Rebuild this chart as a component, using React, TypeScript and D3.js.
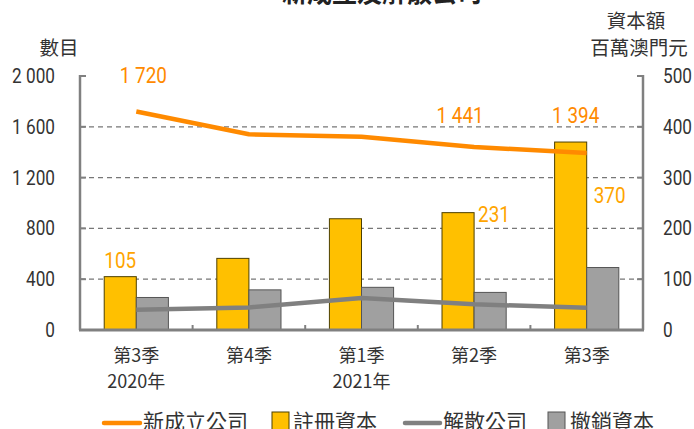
import React from "react";
import * as d3 from "d3";

const quarters = ["第3季", "第4季", "第1季", "第2季", "第3季"];
const years = ["2020年", "", "2021年", "", ""];
const newCompanies = [1720, 1541, 1522, 1441, 1394];
const dissolved = [160, 178, 252, 202, 176];
const registeredCapital = [105, 141, 219, 231, 370];
const cancelledCapital = [64, 79, 84, 74, 123];
const leftTicks = [0, 400, 800, 1200, 1600, 2000];
const rightTicks = [0, 100, 200, 300, 400, 500];
const legendItems = ["新成立公司", "註冊資本", "解散公司", "撤銷資本"];

const W = 694, H = 429;
const L = 80, R = 643, T = 76, B = 330;
const ORANGE = "#FF8A00";
const LABEL_ORANGE = "#FFA500";
const YELLOW = "#FFC000";
const GREY = "#A0A0A0";
const LINE_GREY = "#808080";
const FONT = "'Roboto', 'Noto Sans', sans-serif";
const CJK = "'Noto Sans CJK TC', sans-serif";
const SX = 0.86;

const fmt = (v: number) => {
  const s = String(v);
  return s.length > 3 ? s.slice(0, s.length - 3) + " " + s.slice(-3) : s;
};

function Num({ x, y, anchor, size, fill, children }: any) {
  return (
    <text transform={`translate(${x},${y}) scale(${SX},1)`} textAnchor={anchor} fontFamily={FONT} fontSize={size} fill={fill}>
      {children}
    </text>
  );
}

export default function App() {
  const x = d3.scaleBand<number>().domain(d3.range(quarters.length)).range([L, R]).padding(0);
  const yL = d3.scaleLinear().domain([0, 2000]).range([B, T]);
  const yR = d3.scaleLinear().domain([0, 500]).range([B, T]);
  const cx = (i: number) => (x(i) as number) + x.bandwidth() / 2;
  const bw = x.bandwidth() * 0.285;

  const newPath = d3.line<number>().x((_, i) => cx(i)).y((d) => yL(d))(newCompanies) as string;
  const disPath = d3.line<number>().x((_, i) => cx(i)).y((d) => yL(d))(dissolved) as string;

  return (
    <svg width={W} height={H} style={{ position: "absolute", left: 0, top: 0, background: "#fff" }}>
      <text x={382} y={2} textAnchor="middle" fontFamily={CJK} fontWeight="bold" fontSize={25} fill="#222">新成立及解散公司</text>
      <text x={59} y={55} textAnchor="middle" fontFamily={CJK} fontSize={19.5} fill="#333">數目</text>
      <text x={636} y={28} textAnchor="middle" fontFamily={CJK} fontSize={19.5} fill="#333">資本額</text>
      <text x={639} y={55} textAnchor="middle" fontFamily={CJK} fontSize={19.5} fill="#333">百萬澳門元</text>

      {leftTicks.slice(1, -1).map((t) => (
        <line key={"g" + t} x1={L} x2={R} y1={yL(t)} y2={yL(t)} stroke="#777" strokeWidth={1.3} strokeDasharray="5,4" />
      ))}

      {registeredCapital.map((v, i) => (
        <rect key={"y" + i} x={cx(i) - bw} y={yR(v)} width={bw} height={B - yR(v)} fill={YELLOW} stroke="#4d4000" strokeWidth={1} />
      ))}
      {cancelledCapital.map((v, i) => (
        <rect key={"c" + i} x={cx(i)} y={yR(v)} width={bw} height={B - yR(v)} fill={GREY} stroke="#555" strokeWidth={1} />
      ))}

      <path d={newPath} fill="none" stroke={ORANGE} strokeWidth={4.5} strokeLinejoin="round" />
      <path d={disPath} fill="none" stroke={LINE_GREY} strokeWidth={4.5} strokeLinejoin="round" />

      {/* axes */}
      <line x1={L} x2={L} y1={T - 1} y2={B} stroke={LINE_GREY} strokeWidth={2.5} />
      <line x1={R} x2={R} y1={T - 1} y2={B} stroke={LINE_GREY} strokeWidth={2.5} />
      <line x1={L - 1} x2={R + 1} y1={B} y2={B} stroke={LINE_GREY} strokeWidth={3} />
      {leftTicks.map((t) => (
        <line key={"lt" + t} x1={L} x2={L + 6} y1={yL(t)} y2={yL(t)} stroke={LINE_GREY} strokeWidth={2} />
      ))}
      {rightTicks.map((t) => (
        <line key={"rt" + t} x1={R - 6} x2={R} y1={yR(t)} y2={yR(t)} stroke={LINE_GREY} strokeWidth={2} />
      ))}
      {d3.range(1, quarters.length).map((i) => (
        <line key={"bt" + i} x1={x(i) as number} x2={x(i) as number} y1={B} y2={B - 5} stroke={LINE_GREY} strokeWidth={2} />
      ))}

      {leftTicks.map((t) => (
        <Num key={"ll" + t} x={55} y={yL(t) + 7} anchor="end" size={20} fill="#333">{fmt(t)}</Num>
      ))}
      {rightTicks.map((t) => (
        <Num key={"rl" + t} x={663} y={yR(t) + 7} anchor="start" size={20} fill="#333">{t}</Num>
      ))}

      {quarters.map((q, i) => (
        <g key={"q" + i}>
          <text x={cx(i)} y={362} textAnchor="middle" fontFamily={CJK} fontSize={18} fill="#333">{q}</text>
          {years[i] && <text x={cx(i)} y={388} textAnchor="middle" fontFamily={CJK} fontSize={18} fill="#333">{years[i]}</text>}
        </g>
      ))}

      {/* data labels */}
      <Num x={cx(0) + 7} y={83} anchor="middle" size={22} fill={ORANGE}>{fmt(newCompanies[0])}</Num>
      <Num x={cx(3) - 14} y={123} anchor="middle" size={22} fill={ORANGE}>{fmt(newCompanies[3])}</Num>
      <Num x={cx(4) - 11} y={123} anchor="middle" size={22} fill={ORANGE}>{fmt(newCompanies[4])}</Num>
      <Num x={cx(0) - bw / 2} y={yR(registeredCapital[0]) - 9} anchor="middle" size={22} fill={LABEL_ORANGE}>{registeredCapital[0]}</Num>
      <Num x={cx(3) + 4} y={yR(registeredCapital[3]) + 9} anchor="start" size={22} fill={LABEL_ORANGE}>{registeredCapital[3]}</Num>
      <Num x={cx(4) + 7} y={yR(registeredCapital[4]) + 61} anchor="start" size={22} fill={LABEL_ORANGE}>{registeredCapital[4]}</Num>

      {/* legend */}
      <g fontFamily={CJK} fontSize={21} fill="#333">
        <line x1={104} x2={140} y1={423} y2={423} stroke={ORANGE} strokeWidth={4.5} strokeLinecap="round" />
        <text x={143} y={429}>{legendItems[0]}</text>
        <rect x={272} y={412} width={17} height={18} fill={YELLOW} stroke="#4d4000" strokeWidth={1} />
        <text x={293} y={429}>{legendItems[1]}</text>
        <line x1={405} x2={440} y1={423} y2={423} stroke={LINE_GREY} strokeWidth={4.5} strokeLinecap="round" />
        <text x={443} y={429}>{legendItems[2]}</text>
        <rect x={548} y={412} width={17} height={18} fill={GREY} stroke="#555" strokeWidth={1} />
        <text x={570} y={429}>{legendItems[3]}</text>
      </g>
    </svg>
  );
}
